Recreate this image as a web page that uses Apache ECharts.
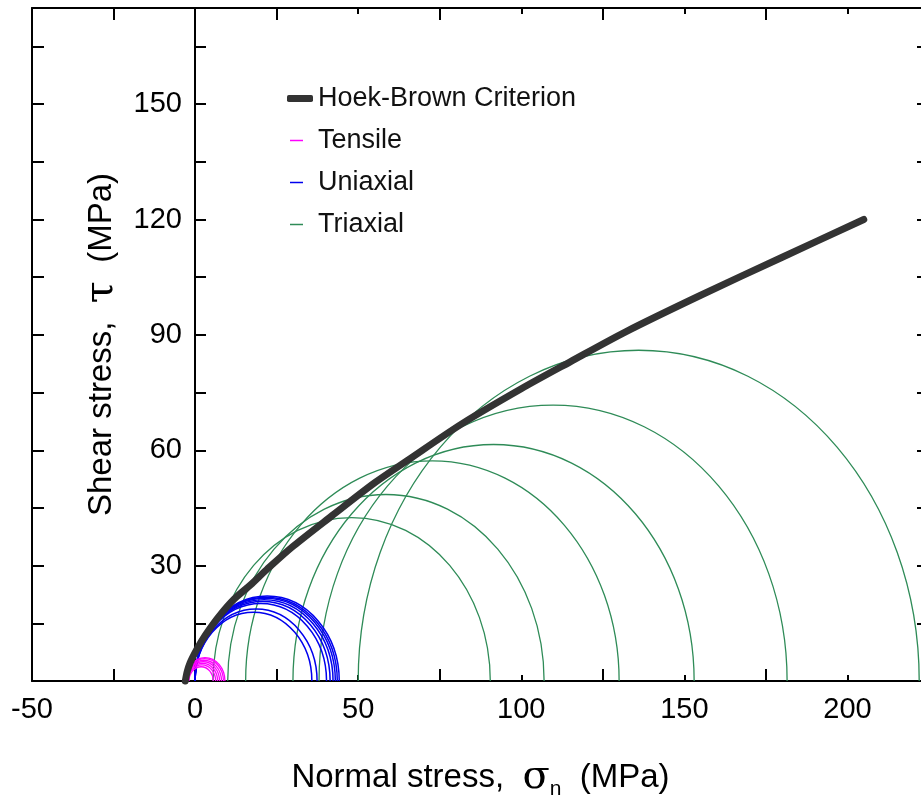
<!DOCTYPE html>
<html>
<head>
<meta charset="utf-8">
<title>Mohr circles</title>
<script src="https://cdn.jsdelivr.net/npm/echarts@6/dist/echarts.min.js"></script>
<style>
  html, body { margin: 0; padding: 0; background: #fff; }
  #chart { width: 921px; height: 800px; }
</style>
</head>
<body>
<div id="chart"></div>
<script>
// Hoek-Brown envelope (normal stress, shear stress)
const hbSigma = [-3, -2.4, -1.5, 0, 2, 4.5, 7.5, 12, 17, 22, 30, 42, 55, 65, 82, 100, 115, 132, 155, 180, 205];
const hbTau = [0, 2.5, 4.8, 7.4, 10.4, 13.6, 17, 21.3, 25, 29, 35, 43, 51.5, 57.3, 67, 76, 83, 90.8, 100.3, 110.2, 120];

// Mohr circles: minor (s3) and major (s1) principal stress, MPa
const tensileS3 = [-1.85, -2.1, -2.3, -2.5, -2.7, -2.9, -3.05];
const tensileS1 = [5.55, 6.3, 6.9, 7.5, 8.1, 8.7, 9.15];
const uniaxialS3 = [0, 0, 0, 0, 0, 0, 0, 0];
const uniaxialS1 = [35.8, 37.4, 40.3, 41.4, 42.3, 43.0, 43.6, 44.2];
const triaxialS3 = [5.5, 10, 15.5, 30, 38, 50];
const triaxialS1 = [90.5, 107, 130, 153, 181.5, 222];

// tick values / labels
const xLabels = [-50, 0, 50, 100, 150, 200];
const xMinorTicks = [-25, 25, 75, 125, 175];
const yLabels = [30, 60, 90, 120, 150];
const yTicks = [15, 30, 45, 60, 75, 90, 105, 120, 135, 150, 165];

const FONT = 'Liberation Sans';
const chart = echarts.init(document.getElementById('chart'));

function circles(s3, s1) {
  return s3.map((v, i) => [v, s1[i]]);
}

// half circle drawn as an ellipse (x and y scales differ), lower half clipped by the grid
function mohrItem(lineWidth) {
  return function (params, api) {
    const s3 = api.value(0);
    const s1 = api.value(1);
    const r = (s1 - s3) / 2;
    const c = api.coord([(s3 + s1) / 2, 0]);
    const size = api.size([r, r]);
    return {
      type: 'ellipse',
      shape: { cx: c[0], cy: c[1], rx: size[0], ry: size[1] },
      style: { fill: 'none', stroke: api.visual('color'), lineWidth: lineWidth }
    };
  };
}

const frameLine = { show: true, onZero: false, lineStyle: { color: '#000', width: 2 } };
const tickStyle = { color: '#000', width: 2 };

const option = {
  animation: false,
  grid: { left: 32, right: -8, top: 8, bottom: 119, containLabel: false, outerBoundsMode: 'none' },
  legend: [
    {
      data: [{ name: 'Hoek-Brown Criterion', icon: 'roundRect' }],
      left: 282, top: 80, orient: 'vertical',
      itemWidth: 26, itemHeight: 7,
      textStyle: { fontSize: 27, fontFamily: FONT, color: '#111', lineHeight: 27 },
      selectedMode: false
    },
    {
      data: [
        { name: 'Tensile', icon: 'rect' },
        { name: 'Uniaxial', icon: 'rect' },
        { name: 'Triaxial', icon: 'rect' }
      ],
      left: 285, top: 122, orient: 'vertical',
      itemWidth: 13, itemHeight: 1.5, itemGap: 15,
      textStyle: { fontSize: 27, fontFamily: FONT, color: '#111', lineHeight: 27, padding: [0, 0, 0, 10] },
      selectedMode: false
    }
  ],
  xAxis: [
    {
      type: 'value', min: -50, max: 225, position: 'bottom',
      axisLine: frameLine,
      axisTick: { inside: true, length: 6, lineStyle: tickStyle, customValues: xLabels },
      axisLabel: { customValues: xLabels, fontSize: 29, fontFamily: FONT, color: '#000', margin: 14 },
      splitLine: { show: false },
      name: 'Normal stress,  {s|σ}{sub|n}  (MPa)',
      nameLocation: 'middle', nameGap: 74,
      nameTextStyle: {
        fontSize: 33, fontFamily: FONT, color: '#000',
        rich: {
          s: { fontSize: 40, fontFamily: 'DejaVu Serif', color: '#000' },
          sub: { fontSize: 21, fontFamily: FONT, color: '#000', padding: [24, 0, 0, 0] }
        }
      }
    },
    {
      type: 'value', min: -50, max: 225, position: 'bottom',
      axisLine: { show: false, onZero: false },
      axisTick: { inside: true, length: 12, lineStyle: tickStyle, customValues: xMinorTicks },
      axisLabel: { show: false }, splitLine: { show: false }
    },
    {
      type: 'value', min: -50, max: 225, position: 'top',
      axisLine: frameLine,
      axisTick: { inside: true, length: 6, lineStyle: tickStyle, customValues: xLabels },
      axisLabel: { show: false }, splitLine: { show: false }
    },
    {
      type: 'value', min: -50, max: 225, position: 'top',
      axisLine: { show: false, onZero: false },
      axisTick: { inside: true, length: 12, lineStyle: tickStyle, customValues: xMinorTicks },
      axisLabel: { show: false }, splitLine: { show: false }
    }
  ],
  yAxis: [
    {
      // sits on sigma = 0: moved right from the grid's left edge
      type: 'value', min: 0, max: 175, position: 'left', offset: -163,
      axisLine: frameLine,
      axisTick: { inside: true, length: 11, lineStyle: tickStyle, customValues: yTicks },
      axisLabel: { customValues: yLabels, fontSize: 29, fontFamily: FONT, color: '#000', margin: 13 },
      splitLine: { show: false },
      name: 'Shear stress,  {t|τ}  (MPa)',
      nameLocation: 'middle', nameRotate: 90, nameGap: 73,
      nameTextStyle: {
        fontSize: 33, fontFamily: FONT, color: '#000',
        rich: { t: { fontSize: 40, fontFamily: 'DejaVu Serif', color: '#000' } }
      }
    },
    {
      type: 'value', min: 0, max: 175, position: 'left',
      axisLine: frameLine,
      axisTick: { inside: true, length: 12, lineStyle: tickStyle, customValues: yTicks },
      axisLabel: { show: false }, splitLine: { show: false }
    },
    {
      type: 'value', min: 0, max: 175, position: 'right',
      axisLine: frameLine,
      axisTick: { inside: true, length: 12, lineStyle: tickStyle, customValues: yTicks },
      axisLabel: { show: false }, splitLine: { show: false }
    }
  ],
  series: [
    {
      name: 'Triaxial', type: 'custom', clip: true, z: 2,
      itemStyle: { color: '#2e8b57' },
      renderItem: mohrItem(1.3),
      data: circles(triaxialS3, triaxialS1)
    },
    {
      name: 'Uniaxial', type: 'custom', clip: true, z: 3,
      itemStyle: { color: '#0000ee' },
      renderItem: mohrItem(1.5),
      data: circles(uniaxialS3, uniaxialS1)
    },
    {
      name: 'Tensile', type: 'custom', clip: true, z: 4,
      itemStyle: { color: '#ff00ff' },
      renderItem: mohrItem(1.3),
      data: circles(tensileS3, tensileS1)
    },
    {
      name: 'Hoek-Brown Criterion', type: 'line', z: 5,
      smooth: 0.3, symbol: 'none', clip: false,
      itemStyle: { color: '#333' },
      lineStyle: { color: '#333', width: 7, cap: 'round' },
      data: hbSigma.map((s, i) => [s, hbTau[i]])
    }
  ]
};

chart.setOption(option);
</script>
</body>
</html>
